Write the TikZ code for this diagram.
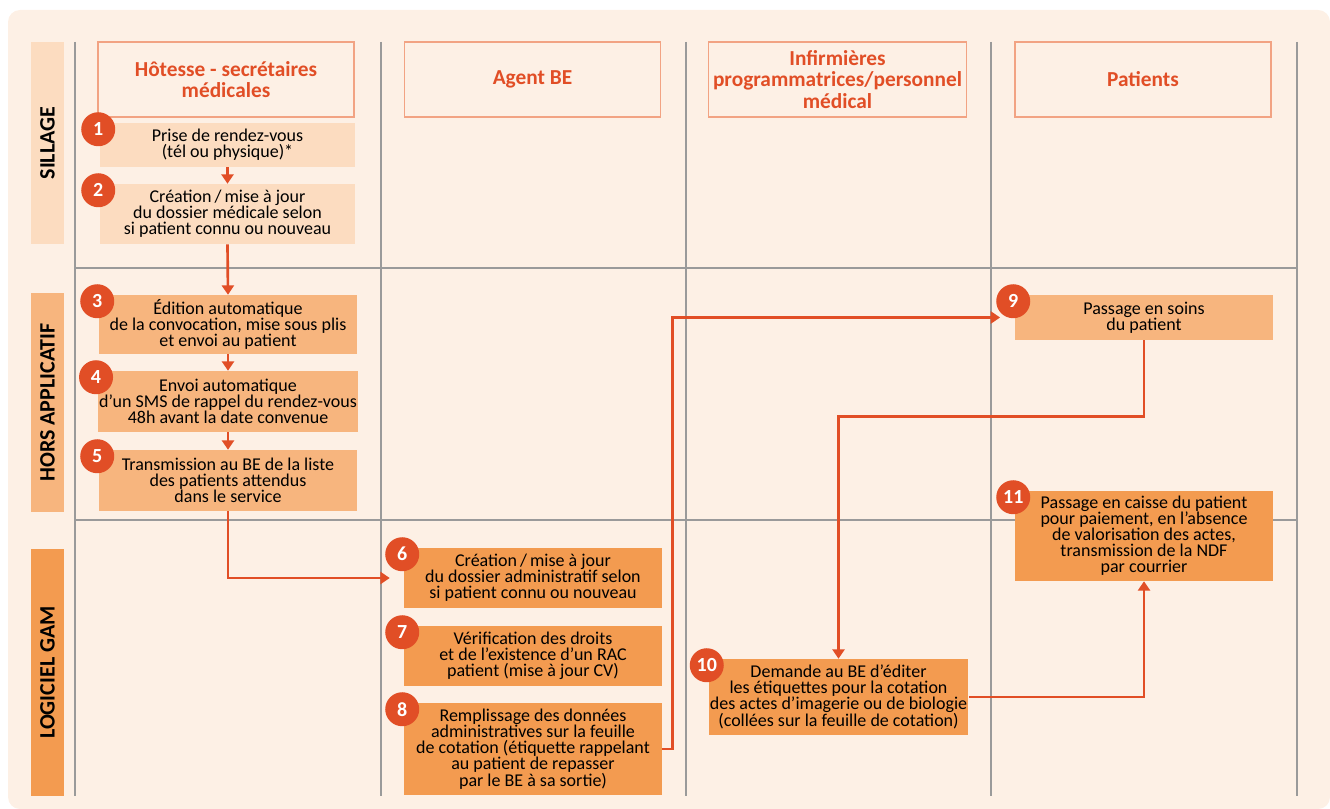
\documentclass[tikz,border=0pt]{standalone}
\usepackage{fontspec}
\setmainfont{Carlito}
\usetikzlibrary{arrows.meta}
\definecolor{paper}{HTML}{FDF0E5}
\definecolor{pale}{HTML}{FCDCC0}
\definecolor{mid}{HTML}{F7B57E}
\definecolor{deep}{HTML}{F39B50}
\definecolor{accent}{HTML}{E14E26}
\definecolor{headline}{HTML}{F2A383}
\definecolor{gridgrey}{HTML}{9A9A9A}
\tikzset{
  headbox/.style={draw=headline, line width=1.1pt, minimum width=192pt, minimum height=56pt,
    align=center, text=accent, font=\bfseries\fontsize{16}{16}\selectfont},
  stepbox/.style 2 args={minimum width=#1*0.75pt, minimum height=#2*0.75pt, inner sep=1pt,
    align=center, font=\fontsize{13.5}{12}\selectfont},
  rowtag/.style={rotate=90, minimum width=#1*0.75pt, minimum height=24.75pt, inner sep=0pt,
    font=\bfseries\fontsize{16.5}{16.5}\selectfont},
  badge/.style={circle, fill=accent, text=white, minimum size=25.5pt, inner sep=0pt,
    font=\bfseries\fontsize{15}{15}\selectfont},
  flow/.style={draw=accent, line width=2pt, -{Triangle[width=9pt,length=7pt]}}
}
\begin{document}
\begin{tikzpicture}[x=0.75pt, y=-0.75pt]
    \useasboundingbox (0,0) rectangle (1330,809);
    \fill[paper, rounded corners=9pt] (8,10) rectangle (1330,809);
    \foreach \gx in {75,381,686,991,1297}
        \draw[gridgrey, line width=0.8pt] (\gx,42) -- (\gx,796);
    \foreach \gy in {268,520}
        \draw[gridgrey, line width=0.8pt] (75,\gy) -- (1297,\gy);

    \node[rowtag=202, fill=pale] (sillage) at (47.5,143) {SILLAGE};
    \node[rowtag=219, fill=mid] (hors) at (47.5,402.5) {HORS APPLICATIF};
    \node[rowtag=247, fill=deep] (gam) at (47.5,672.5) {LOGICIEL GAM};

    \node[headbox] (hotesse) at (226,79.5) {Hôtesse - secrétaires\\médicales};
    \node[headbox] (agent) at (532.5,79.5) {Agent BE};
    \node[headbox] (infirm) at (837.5,79.5) {Infirmières\\programmatrices/personnel\\médical};
    \node[headbox] (patients) at (1143,79.5) {Patients};

    \node[stepbox={255}{44}, fill=pale] (s1) at (227.5,145) {Prise de rendez-vous\\(tél ou physique)*};
    \node[stepbox={255}{60}, fill=pale] (s2) at (227.5,214) {Création\,/\,mise à jour\\du dossier médicale selon\\si patient connu ou nouveau};
    \node[stepbox={258}{59}, fill=mid] (s3) at (228,324.5) {Édition automatique\\de la convocation, mise sous plis\\et envoi au patient};
    \node[stepbox={258}{61}, fill=mid] (s4) at (228,401.5) {Envoi automatique\\d’un SMS de rappel du rendez-vous\\48h avant la date convenue};
    \node[stepbox={258}{61}, fill=mid] (s5) at (228,480.5) {Transmission au BE de la liste\\des patients attendus\\dans le service};
    \node[stepbox={258}{60}, fill=deep] (s6) at (533,578) {Création\,/\,mise à jour\\du dossier administratif selon\\si patient connu ou nouveau};
    \node[stepbox={258}{60}, fill=deep] (s7) at (533,656) {Vérification des droits\\et de l’existence d’un RAC\\patient (mise à jour CV)};
    \node[stepbox={258}{92}, fill=deep] (s8) at (533,749) {Remplissage des données\\administratives sur la feuille\\de cotation (étiquette rappelant\\au patient de repasser\\par le BE à sa sortie)};
    \node[stepbox={258}{45}, fill=mid] (s9) at (1144,317.5) {Passage en soins\\du patient};
    \node[stepbox={259}{76}, fill=deep] (s10) at (838.5,697) {Demande au BE d’éditer\\les étiquettes pour la cotation\\des actes d’imagerie ou de biologie\\(collées sur la feuille de cotation)};
    \node[stepbox={258}{90}, fill=deep] (s11) at (1144,536) {Passage en caisse du patient\\pour paiement, en l’absence\\de valorisation des actes,\\transmission de la NDF\\par courrier};

    \draw[flow] (s1.south) -- (s2.north);
    \draw[flow] (s2.south) -- (s3.north);
    \draw[flow] (s3.south) -- (s4.north);
    \draw[flow] (s4.south) -- (s5.north);
    \draw[flow, shorten >=10.5pt] (s5.south) |- (s6.west);
    \draw[flow, shorten >=11pt] (s8.east) -- ++(10,0) |- (s9.west);
    \draw[flow] (s9.south) -- ++(0,76) -| (s10.north);
    \draw[flow] (s10.east) -| (s11.south);

    \foreach \k in {1,...,11}
        \node[badge] (n\k) at ([shift={(-1.5,6.5)}]s\k.north west) {\k};
\end{tikzpicture}
\end{document}
